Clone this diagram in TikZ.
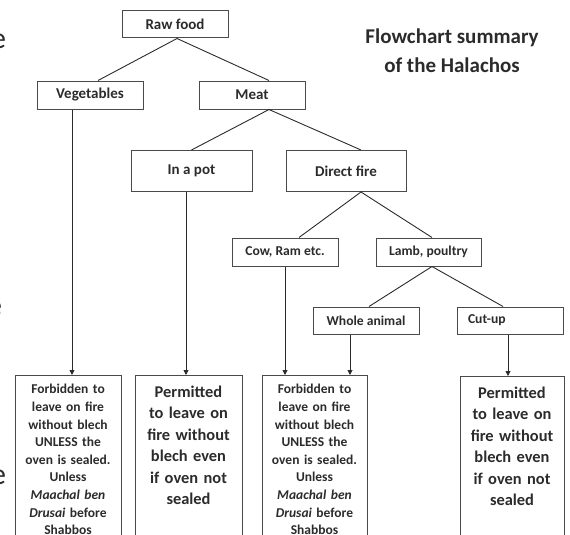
\documentclass[tikz,border=0pt]{standalone}
\usepackage{fontspec}
\setmainfont{Carlito}
\usetikzlibrary{arrows.meta}
\definecolor{ink}{HTML}{2B2B2B}
\definecolor{frame}{HTML}{4A4A4A}

\newcommand{\forbidtext}{Forbidden to\\leave on fire\\without blech\\UNLESS the\\oven is sealed.\\Unless\\\textit{Maachal ben}\\\textit{Drusai} before\\Shabbos}
\newcommand{\permittext}{Permitted\\to leave on\\fire without\\blech even\\if oven not\\sealed}

\begin{document}
\begin{tikzpicture}[x=1pt, y=-1pt, ink,
  >={Triangle[length=5pt,width=5pt]},
  link/.style={line width=0.9pt},
  flow/.style={->, line width=0.9pt},
  box/.style={draw=frame, line width=1pt, inner sep=0pt, minimum width=106pt,
              minimum height=28pt, font=\bfseries\fontsize{15}{17}\selectfont},
  smallbox/.style={box, font=\bfseries\fontsize{13.6}{16}\selectfont},
  outbox/.style={draw=frame, line width=1pt, anchor=north, align=center,
                 inner xsep=2pt, text depth=220pt}]

\useasboundingbox (0,0) rectangle (570,535);
\clip (0,0) rectangle (570,535);

% cut-off letters at the left edge
\node[anchor=east, inner sep=0pt, font=\fontsize{30}{30}\selectfont] (edgeA) at (6.2,41) {e};
\node[anchor=east, inner sep=0pt, font=\fontsize{30}{30}\selectfont] (edgeB) at (2.2,308) {e};
\node[anchor=east, inner sep=0pt, font=\fontsize{30}{30}\selectfont] (edgeC) at (6.2,477) {e};

% title
\node[align=center, font=\bfseries\fontsize{21}{29}\selectfont] (title) at (452,51)
  {Flowchart summary\\of the Halachos};

% tree
\node[box, minimum height=27pt] (raw) at (175,24.5) {Raw food};
\node[box] (veg) at (90,95) {Vegetables};
\node[box] (meat) at (252,95) {Meat};
\node[box, minimum width=121pt, minimum height=41pt] (pot) at (191.5,171) {In a pot};
\node[box, minimum width=120pt, minimum height=41pt] (fire) at (346,171) {Direct fire};
\node[smallbox] (cow) at (285,252) {Cow, Ram etc.};
\node[smallbox, minimum width=105pt] (lamb) at (428.5,252) {Lamb, poultry};
\node[smallbox, minimum height=27pt] (whole) at (366,320.5) {Whole animal};
\node[smallbox, minimum height=27pt, text width=84pt, inner xsep=11pt, align=left] (cutup) at (510,320.5) {Cut-up};

\draw[link] ([xshift=2pt]raw.south) -- ([xshift=8pt]veg.north);
\draw[link] ([xshift=2pt]raw.south) -- ([xshift=17pt]meat.north);
\draw[link] ([xshift=17pt]meat.south) -- (pot.north);
\draw[link] ([xshift=17pt]meat.south) -- ([xshift=15pt]fire.north);
\draw[link] ([xshift=15pt]fire.south) -- ([xshift=14pt]cow.north);
\draw[link] ([xshift=15pt]fire.south) -- ([xshift=3.5pt]lamb.north);
\draw[link] ([xshift=3.5pt]lamb.south) -- ([xshift=3pt]whole.north);
\draw[link] ([xshift=3.5pt]lamb.south) -- ([xshift=-7pt]cutup.north);

% outcomes
\node[outbox, text width=102pt, inner ysep=9pt, font=\bfseries\fontsize{13.5}{17.6}\selectfont]
  (forbidA) at (68,375) {\forbidtext};
\node[outbox, text width=103pt, inner ysep=10pt, font=\bfseries\fontsize{16.4}{21.5}\selectfont]
  (permitA) at (188.5,375) {\permittext};
\node[outbox, text width=101pt, inner ysep=9pt, font=\bfseries\fontsize{13.5}{17.6}\selectfont]
  (forbidB) at (314.5,375) {\forbidtext};
\node[outbox, text width=100pt, inner ysep=10pt, font=\bfseries\fontsize{16.4}{21.5}\selectfont]
  (permitB) at (512,376) {\permittext};

\draw[flow] ([xshift=-18pt]veg.south) -- ([xshift=-18pt]veg.south |- forbidA.north);
\draw[flow] ([xshift=-5.5pt]pot.south) -- ([xshift=-5.5pt]pot.south |- permitA.north);
\draw[flow] (cow.south) -- (cow.south |- forbidB.north);
\draw[flow] ([xshift=-16pt]whole.south) -- ([xshift=-16pt]whole.south |- forbidB.north);
\draw[flow] ([xshift=-2pt]cutup.south) -- ([xshift=-2pt]cutup.south |- permitB.north);

\end{tikzpicture}
\end{document}
